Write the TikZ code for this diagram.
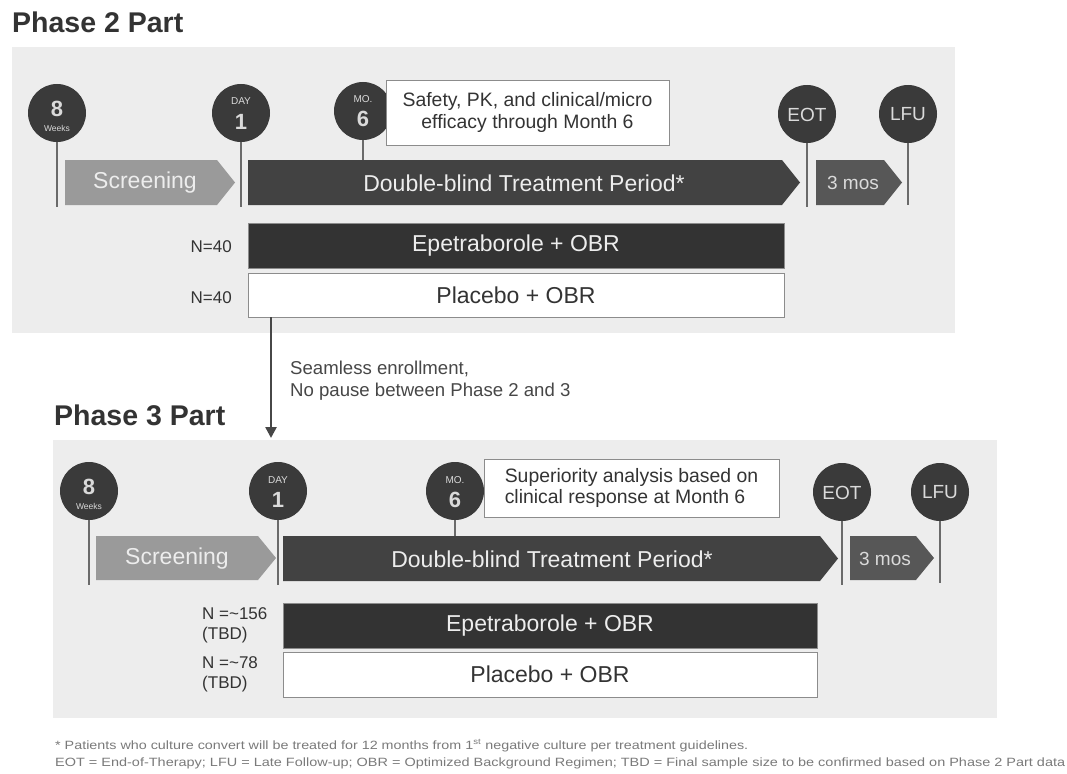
\documentclass[tikz,border=0pt]{standalone}
\usepackage{fontspec}
\setmainfont{Liberation Sans}
\usetikzlibrary{arrows.meta}
\definecolor{panel}{HTML}{EDEDED}
\definecolor{msdark}{HTML}{3A3A3A}
\definecolor{mstext}{HTML}{DADADA}
\definecolor{scrfill}{HTML}{9A9A9A}
\definecolor{trtfill}{HTML}{424242}
\definecolor{mosfill}{HTML}{575757}
\definecolor{armdark}{HTML}{333333}
\definecolor{edge}{HTML}{8C8C8C}
\definecolor{stemc}{HTML}{6A6A6A}
\definecolor{txtdark}{HTML}{333333}
\definecolor{foot}{HTML}{7A7A7A}
\newcommand{\fs}[1]{\fontsize{#1}{#1}\selectfont}
\begin{document}
\begin{tikzpicture}[x=1pt,y=-1pt,
  panelbox/.style={fill=panel, draw=none},
  ms/.style={circle, fill=msdark, minimum size=58pt, inner sep=0pt, text=mstext},
  mssmall/.style={text=mstext, font=\fs{10}, inner sep=0pt},
  msbig/.style={text=mstext, font=\fs{22}\bfseries, inner sep=0pt},
  mslbl/.style={text=mstext, font=\fs{19}, inner sep=0pt},
  stemline/.style={draw=stemc, line width=2pt},
  bartext/.style={text=white!93!black, font=\fs{23}, inner sep=0pt},
  armdarkbox/.style={rectangle, fill=armdark, draw=edge, line width=0.8pt, text=white!93!black, font=\fs{23}, inner sep=0pt},
  armlightbox/.style={rectangle, fill=white, draw=edge, line width=0.8pt, text=txtdark, font=\fs{23}, inner sep=0pt},
  notebox/.style={rectangle, fill=white, draw=edge, line width=0.8pt, text=txtdark, font=\fs{19.4}, align=center, inner sep=0pt},
  nlabel/.style={text=txtdark, font=\fs{17}, inner sep=0pt},
  title/.style={text=txtdark, font=\fs{28.5}\bfseries, inner sep=0pt, anchor=base west},
  flow/.style={draw=txtdark!90, line width=2.5pt, -{Triangle[length=11pt,width=11pt]}},
  foottext/.style={text=foot, font=\fs{12}, inner sep=0pt, anchor=base west}
]
\useasboundingbox[fill=white] (0,0) rectangle (1067,773);

% ================= Phase 2 =================
\node[title] (t2) at (12,33) {Phase 2 Part};
\fill[panel] (12,47) rectangle (955,333);

% bars
\fill[scrfill] (65,160) -- (217,160) -- (235,182.5) -- (217,205) -- (65,205) -- cycle;
\node[bartext] (scr2) at (145,183) {Screening};
\fill[trtfill] (248,160) -- (782,160) -- (800,182.5) -- (782,205) -- (248,205) -- cycle;
\node[bartext] (trt2) at (524,183) {Double-blind Treatment Period*};
\fill[mosfill] (816,160) -- (884,160) -- (902,182.5) -- (884,205) -- (816,205) -- cycle;
\node[bartext, font=\fs{19}, text=mstext] (mos2) at (853,183) {3 mos};

% milestones
\node[ms] (w82) at (57,113) {};
\node[ms] (d12) at (241,113) {};
\node[ms] (m62) at (363,111) {};
\node[ms] (eot2) at (807,114) {};
\node[ms] (lfu2) at (908,114) {};
\coordinate (w82b) at (57,207);
\coordinate (d12b) at (241,207);
\coordinate (m62b) at (363,160);
\coordinate (eot2b) at (807,207);
\coordinate (lfu2b) at (908,205);
\draw[stemline] (w82.south) -- (w82b);
\draw[stemline] (d12.south) -- (d12b);
\draw[stemline] (m62.south) -- (m62b);
\draw[stemline] (eot2.south) -- (eot2b);
\draw[stemline] (lfu2.south) -- (lfu2b);
\node[msbig] (w82n) at (57,109) {8};
\node[mssmall, font=\fs{8.5}] (w82w) at (57,128) {Weeks};
\node[mssmall] (d12t) at (241,101) {DAY};
\node[msbig] (d12n) at (241,122) {1};
\node[mssmall] (m62t) at (363,99) {MO.};
\node[msbig] (m62n) at (363,119) {6};
\node[mslbl] (eot2t) at (807,115) {EOT};
\node[mslbl] (lfu2t) at (908,114) {LFU};

\node[notebox, minimum width=283pt, minimum height=65pt] (note2) at (527.5,112.5)
  {Safety, PK, and clinical/micro\\[2pt]efficacy through Month 6};

% arms
\node[armdarkbox, minimum width=536pt, minimum height=45pt] (epi2) at (516,245.5) {Epetraborole + OBR};
\node[armlightbox, minimum width=536pt, minimum height=44pt] (pla2) at (516,295) {Placebo + OBR};
\node[nlabel, anchor=east] (n2a) at (232,247) {N=40};
\node[nlabel, anchor=east] (n2b) at (232,298) {N=40};

% ================= transition =================
\coordinate (arrS) at (271,317);
\coordinate (arrE) at (271,438);
\draw[flow] (arrS) -- (arrE);
\node[text=txtdark!90, font=\fs{18.6}, align=left, anchor=north west, inner sep=0pt] (seam) at (290,361)
  {Seamless enrollment,\\[3pt]No pause between Phase 2 and 3};

% ================= Phase 3 =================
\node[title] (t3) at (54,425) {Phase 3 Part};
\fill[panel] (53,440) rectangle (997,718);

\fill[scrfill] (96,536) -- (258,536) -- (276,558) -- (258,580) -- (96,580) -- cycle;
\node[bartext] (scr3) at (177,558.5) {Screening};
\fill[trtfill] (283,536) -- (820,536) -- (838,558.5) -- (820,581) -- (283,581) -- cycle;
\node[bartext] (trt3) at (552,559) {Double-blind Treatment Period*};
\fill[mosfill] (850,536) -- (916,536) -- (934,558) -- (916,580) -- (850,580) -- cycle;
\node[bartext, font=\fs{19}, text=mstext] (mos3) at (885,558.5) {3 mos};

\node[ms] (w83) at (89,491) {};
\node[ms] (d13) at (278,491) {};
\node[ms] (m63) at (455,491) {};
\node[ms] (eot3) at (842,492) {};
\node[ms] (lfu3) at (940,492) {};
\coordinate (w83b) at (89,585);
\coordinate (d13b) at (278,585);
\coordinate (m63b) at (455,536);
\coordinate (eot3b) at (842,585);
\coordinate (lfu3b) at (940,583);
\draw[stemline] (w83.south) -- (w83b);
\draw[stemline] (d13.south) -- (d13b);
\draw[stemline] (m63.south) -- (m63b);
\draw[stemline] (eot3.south) -- (eot3b);
\draw[stemline] (lfu3.south) -- (lfu3b);
\node[msbig] (w83n) at (89,487) {8};
\node[mssmall, font=\fs{8.5}] (w83w) at (89,506) {Weeks};
\node[mssmall] (d13t) at (278,480) {DAY};
\node[msbig] (d13n) at (278,500) {1};
\node[mssmall] (m63t) at (455,480) {MO.};
\node[msbig] (m63n) at (455,500) {6};
\node[mslbl] (eot3t) at (842,493) {EOT};
\node[mslbl] (lfu3t) at (940,492) {LFU};

\node[notebox, minimum width=295pt, minimum height=58pt, align=left] (note3) at (631.5,488)
  {Superiority analysis based on\\[2pt]clinical response at Month 6};

\node[armdarkbox, minimum width=534pt, minimum height=45pt] (epi3) at (550,625.5) {Epetraborole + OBR};
\node[armlightbox, minimum width=534pt, minimum height=45pt] (pla3) at (550,674.5) {Placebo + OBR};
\node[nlabel, anchor=north west, align=left] (n3a) at (202,607)
  {N =\textasciitilde156\\[3pt](TBD)};
\node[nlabel, anchor=north west, align=left] (n3b) at (202,656)
  {N =\textasciitilde78\\[3pt](TBD)};

% ================= footer =================
\node[foottext] (f1) at (55,749)
  {\resizebox{693pt}{\height}{* Patients who culture convert will be treated for 12 months from 1\textsuperscript{st} negative culture per treatment guidelines.}};
\node[foottext] (f2) at (55,766)
  {\resizebox{1010pt}{\height}{EOT = End-of-Therapy; LFU = Late Follow-up; OBR = Optimized Background Regimen; TBD = Final sample size to be confirmed based on Phase 2 Part data}};
\end{tikzpicture}
\end{document}
